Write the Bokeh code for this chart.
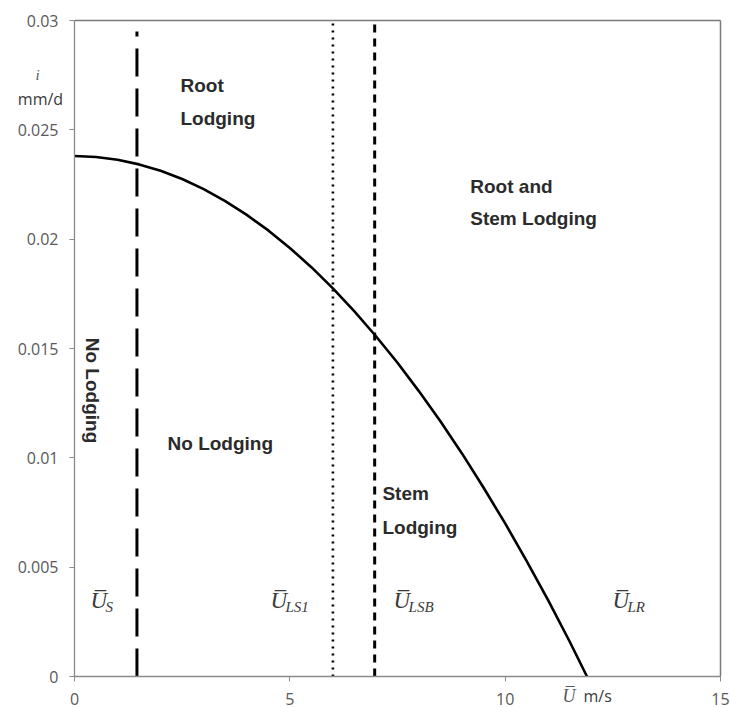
from math import pi

from bokeh.plotting import figure
from bokeh.models import Range1d, FixedTicker, Label, LinearAxis
from bokeh.embed import file_html
from bokeh.resources import INLINE

# Infiltration threshold curve i (mm/d) against mean wind speed U (m/s)
u_curve = [0, 0.5, 1, 1.5, 2, 2.5, 3, 3.5, 4, 4.5, 5, 5.5, 6, 6.5, 7, 7.5,
           8, 8.5, 9, 9.5, 10, 10.5, 11, 11.5, 11.9]
i_curve = [0.0238, 0.02376, 0.02363, 0.02342, 0.02313, 0.02275, 0.02229,
           0.02174, 0.02111, 0.0204, 0.0196, 0.01872, 0.01775, 0.0167,
           0.01556, 0.01435, 0.01304, 0.01166, 0.01019, 0.00863, 0.007,
           0.00528, 0.00348, 0.00159, 0.0]

# Critical wind speeds (vertical boundaries)
u_s = [1.45]
u_ls1 = [6.0]
u_lsb = [6.97]
u_s_top = [0.0295]

x_ticks = [0, 5, 10, 15]
x_tick_labels = ["0", "5", "10", "15"]
y_ticks = [0, 0.005, 0.01, 0.015, 0.02, 0.025, 0.03]
y_tick_labels = ["0", "0.005", "0.01", "0.015", "0.02", "0.025", "0.03"]

X_MIN, X_MAX = 0, 15
Y_MIN, Y_MAX = 0, 0.03

AXIS_GREY = "#8a8a8a"
FRAME_GREY = "#7a7a7a"
TICK_TEXT = "#595959"
REGION_TEXT = "#2b2b2b"

# The canvas is the whole data frame; axes sit at fixed data positions so
# captions in the margins can be placed in data units.
px_per_u = 646 / (X_MAX - X_MIN)
px_per_i = 656 / (Y_MAX - Y_MIN)
p = figure(width=731, height=708, output_backend="svg", toolbar_location=None,
           x_range=Range1d(X_MIN - 74 / px_per_u, X_MAX + 11 / px_per_u),
           y_range=Range1d(Y_MIN - 32 / px_per_i, Y_MAX + 20 / px_per_i),
           x_axis_type=None, y_axis_type=None,
           min_border=0)
p.grid.visible = False
p.background_fill_color = "white"
p.border_fill_color = "white"
p.outline_line_color = None

xaxis = LinearAxis(fixed_location=Y_MIN, bounds=(X_MIN, X_MAX),
                   ticker=FixedTicker(ticks=x_ticks),
                   major_label_overrides=dict(zip(x_ticks, x_tick_labels)),
                   major_label_standoff=11)
yaxis = LinearAxis(fixed_location=X_MIN, bounds=(Y_MIN, Y_MAX),
                   ticker=FixedTicker(ticks=y_ticks),
                   major_label_overrides=dict(zip(y_ticks, y_tick_labels)),
                   major_label_standoff=11)
for ax in (xaxis, yaxis):
    ax.axis_line_color = AXIS_GREY
    ax.axis_line_width = 1.3
    ax.major_tick_line_color = AXIS_GREY
    ax.major_tick_in = 0
    ax.major_tick_out = 5
    ax.minor_tick_line_color = None
    ax.major_label_text_font = "Open Sans"
    ax.major_label_text_font_size = "16px"
    ax.major_label_text_color = TICK_TEXT
p.add_layout(xaxis, "below")
p.add_layout(yaxis, "left")

# Top and right frame edges
for loc, side, bnds in ((Y_MAX, "above", (X_MIN, X_MAX)),
                        (X_MAX, "right", (Y_MIN, Y_MAX))):
    edge = LinearAxis(fixed_location=loc, bounds=bnds,
                      ticker=FixedTicker(ticks=[]),
                      axis_line_color=FRAME_GREY, axis_line_width=1.5,
                      major_tick_line_color=None, minor_tick_line_color=None,
                      major_label_text_font_size="0px")
    p.add_layout(edge, side)

# Boundary lines
p.segment(x0=u_s, y0=[0], x1=u_s, y1=u_s_top, line_color="black",
          line_width=3, line_dash="28 12")
p.segment(x0=u_ls1, y0=[0], x1=u_ls1, y1=[Y_MAX], line_color="black",
          line_width=2.6, line_dash="2 5")
p.segment(x0=u_lsb, y0=[0], x1=u_lsb, y1=[Y_MAX], line_color="black",
          line_width=3, line_dash="8 6")

# Threshold curve
p.line(u_curve, i_curve, line_color="black", line_width=2.6)


def region(text, x, y, **kw):
    lab = Label(x=x, y=y, text=text, text_font="Liberation Sans",
                text_font_style="bold", text_font_size="19px",
                text_color=REGION_TEXT, text_baseline="middle", **kw)
    p.add_layout(lab)


region("Root", 2.46, 0.02703)
region("Lodging", 2.46, 0.02552)
region("Root and", 9.19, 0.02241)
region("Stem Lodging", 9.19, 0.02095)
region("No Lodging", 2.16, 0.01066)
region("Stem", 7.15, 0.00837)
region("Lodging", 7.15, 0.00681)
region("No Lodging", 0.42, 0.01308, angle=-pi / 2, text_align="center")


def speed_symbol(sub, x, y):
    main = Label(x=x, y=y, text="U\u0305", text_font="Liberation Serif",
                 text_font_style="italic", text_font_size="23px",
                 text_color="#3a3a3a", text_baseline="middle")
    p.add_layout(main)
    s = Label(x=x, y=y, x_offset=15, y_offset=-7, text=sub,
              text_font="Liberation Serif", text_font_style="italic",
              text_font_size="15px", text_color="#3a3a3a",
              text_baseline="middle")
    p.add_layout(s)


speed_symbol("S", 0.37, 0.00348)
speed_symbol("LS1", 4.55, 0.00348)
speed_symbol("LSB", 7.41, 0.00348)
speed_symbol("LR", 12.49, 0.00348)

# Axis captions in the margins
p.add_layout(Label(x=-0.86, y=0.02753, text="i", text_font="Liberation Serif",
                   text_font_style="italic", text_font_size="15px",
                   text_color=TICK_TEXT, text_align="center",
                   text_baseline="middle"))
p.add_layout(Label(x=-0.79, y=0.02643, text="mm/d", text_font="Open Sans",
                   text_font_size="16px", text_color="#3a3a3a",
                   text_align="center", text_baseline="middle"))
p.add_layout(Label(x=11.33, y=-0.00087, text="U\u0305",
                   text_font="Liberation Serif", text_font_style="italic",
                   text_font_size="18px", text_color=TICK_TEXT,
                   text_baseline="middle"))
p.add_layout(Label(x=11.82, y=-0.00087, text="m/s", text_font="Open Sans",
                   text_font_size="16px", text_color="#3a3a3a",
                   text_baseline="middle"))

open("out.html", "w").write(file_html(p, INLINE))
